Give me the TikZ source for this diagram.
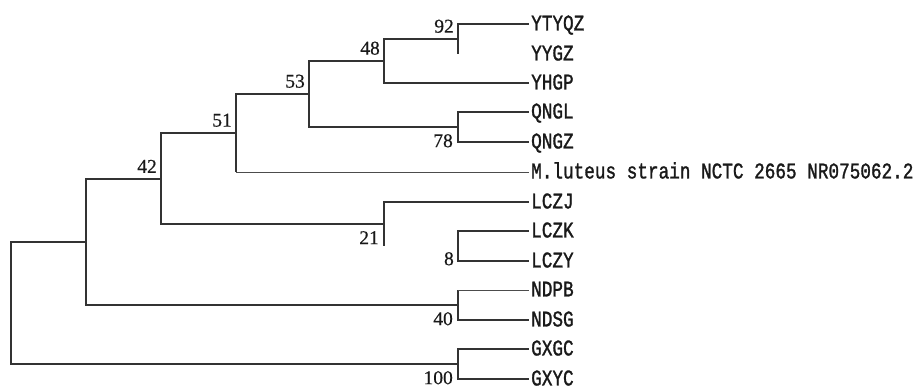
\documentclass[tikz,border=0pt]{standalone}
\usepackage{fontspec}
\usepackage{tikz}
\usetikzlibrary{positioning, calc}
\newfontfamily\taxonfont[FakeStretch=0.79, FakeBold=1.3]{Liberation Mono}
\newfontfamily\bootfont[FakeBold=0.5]{Liberation Serif}

\begin{document}
\begin{tikzpicture}[x=1bp, y=-1bp,
    branch/.style={line width=2bp, black!80},
    thinbranch/.style={line width=1bp, black!70},
    taxon/.style={anchor=west, inner xsep=2bp, inner ysep=0pt, text height=12.8bp, text depth=0pt,
        font=\taxonfont\fontsize{22.4bp}{24bp}\selectfont, text=black!90},
    boot/.style={inner sep=0pt, font=\bootfont\fontsize{19.5bp}{21bp}\selectfont, text=black!90}]
    \useasboundingbox (0,0) rectangle (919,389);

    % Taxa (about one row every 29.6)
    \node[taxon] (YTYQZ) at (529,24)  {YTYQZ};
    \node[taxon] (YYGZ)  at (529,54)  {YYGZ};
    \node[taxon] (YHGP)  at (529,83)  {YHGP};
    \node[taxon] (QNGL)  at (529,112) {QNGL};
    \node[taxon] (QNGZ)  at (529,142) {QNGZ};
    \node[taxon] (Mlut)  at (529,172) {M.luteus strain NCTC 2665 NR075062.2};
    \node[taxon] (LCZJ)  at (529,202) {LCZJ};
    \node[taxon] (LCZK)  at (529,231) {LCZK};
    \node[taxon] (LCZY)  at (529,261) {LCZY};
    \node[taxon] (NDPB)  at (529,290) {NDPB};
    \node[taxon] (NDSG)  at (529,320) {NDSG};
    \node[taxon] (GXGC)  at (529,349) {GXGC};
    \node[taxon] (GXYC)  at (529,379) {GXYC};

    % Internal nodes: x of the split, y halfway between its two children
    \coordinate (n92)  at (458,39);
    \coordinate (n48)  at (384,61);
    \coordinate (n78)  at (458,127);
    \coordinate (n53)  at (309,94);
    \coordinate (n51)  at (236,133);
    \coordinate (n8)   at (458,246);
    \coordinate (n21)  at (384,224);
    \coordinate (n42)  at (161,179);
    \coordinate (n40)  at (458,305);
    \coordinate (nin)  at (86,242);
    \coordinate (n100) at (458,364);
    \coordinate (root) at (11,303);

    % Y / Q clade
    \draw[branch] (n92) |- (YTYQZ.west);
    \draw[branch] (n92) -- (n92 |- YYGZ.west);
    \draw[branch] (n48) |- (n92);
    \draw[branch] (n48) |- (YHGP.west);
    \draw[branch] (n78) |- (QNGL.west);
    \draw[branch] (n78) |- (QNGZ.west);
    \draw[branch] (n53) |- (n48);
    \draw[branch] (n53) |- (n78);
    \draw[branch] (n51) |- (n53);
    \draw[branch] (n51) -- (n51 |- Mlut.west);
    \draw[thinbranch] (n51 |- Mlut.west) -- (Mlut.west);

    % LC clade
    \draw[branch] (n8) |- (LCZK.west);
    \draw[branch] (n8) |- (LCZY.west);
    \draw[branch] (n21) |- (LCZJ.west);
    \draw[branch] (n21) -- (n21 |- n8);
    \draw[branch] (n42) |- (n51);
    \draw[branch] (n42) |- (n21);

    % ND and GX
    \draw[branch] (n40) -- (n40 |- NDPB.west);
    \draw[thinbranch] (n40 |- NDPB.west) -- (NDPB.west);
    \draw[branch] (n40) |- (NDSG.west);
    \draw[branch] (nin) |- (n42);
    \draw[branch] (nin) |- (n40);
    \draw[branch] (n100) |- (GXGC.west);
    \draw[branch] (n100) |- (GXYC.west);
    \draw[branch] (root) |- (nin);
    \draw[branch] (root) |- (n100);

    % Bootstrap values
    \node[boot, above left=6bp and 4bp of n92] (b92) {92};
    \node[boot, above left=6bp and 4bp of n48] (b48) {48};
    \node[boot, above left=6bp and 4bp of n53] (b53) {53};
    \node[boot, above left=6bp and 4bp of n51] (b51) {51};
    \node[boot, above left=6bp and 4bp of n42] (b42) {42};
    \node[boot, below left=7bp and 5bp of n78] (b78) {78};
    \node[boot, below left=7bp and 5bp of n21] (b21) {21};
    \node[boot, below left=6bp and 4bp of n8] (b8) {8};
    \node[boot, below left=7bp and 5bp of n40] (b40) {40};
    \node[boot, below left=7bp and 5bp of n100] (b100) {100};
\end{tikzpicture}
\end{document}
